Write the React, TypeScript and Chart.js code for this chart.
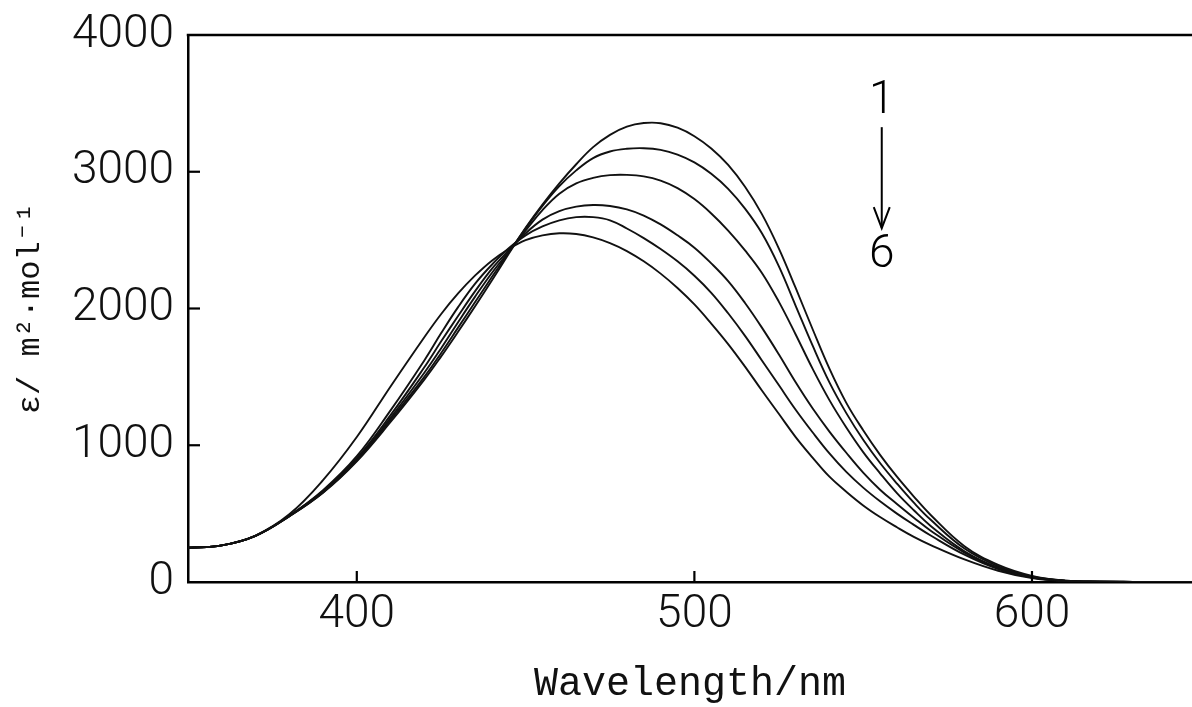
import React, { useEffect, useRef } from "react";
import { Chart, registerables } from "chart.js";

Chart.register(...registerables);

// Wavelength grid (nm)
const wavelengths = [350, 360, 370, 380, 390, 400, 410, 420, 425, 430, 435, 440, 445, 450, 455, 460, 465, 470, 475, 480, 485, 490, 495, 500, 505, 510, 515, 520, 525, 530, 535, 540, 545, 550, 555, 560, 565, 570, 580, 590, 600, 610, 620, 630, 640, 650];

// Molar absorption coefficient for spectra 1..6
const curve1 = [250, 268, 338, 480, 652, 882, 1170, 1480, 1650, 1830, 2015, 2205, 2400, 2590, 2760, 2915, 3055, 3180, 3270, 3330, 3356, 3355, 3322, 3260, 3170, 3050, 2890, 2690, 2440, 2150, 1850, 1560, 1310, 1110, 930, 770, 625, 490, 262, 125, 45, 10, 3, 1, 0, 0];
const curve2 = [250, 268, 338, 481, 655, 888, 1185, 1500, 1675, 1860, 2045, 2230, 2410, 2585, 2750, 2895, 3010, 3100, 3148, 3168, 3172, 3160, 3125, 3068, 2985, 2875, 2730, 2550, 2310, 2020, 1730, 1460, 1235, 1040, 870, 720, 580, 455, 245, 115, 40, 9, 3, 1, 0, 0];
const curve3 = [250, 268, 338, 482, 660, 895, 1200, 1530, 1710, 1900, 2085, 2260, 2415, 2570, 2720, 2840, 2915, 2955, 2975, 2977, 2966, 2935, 2880, 2800, 2695, 2570, 2425, 2260, 2050, 1810, 1560, 1330, 1130, 950, 795, 650, 525, 410, 225, 105, 37, 8, 3, 1, 0, 0];
const curve4 = [250, 268, 338, 483, 665, 905, 1220, 1570, 1760, 1945, 2125, 2290, 2425, 2550, 2650, 2712, 2745, 2757, 2750, 2725, 2680, 2615, 2535, 2445, 2330, 2200, 2040, 1860, 1665, 1460, 1270, 1100, 945, 800, 675, 570, 470, 375, 215, 100, 35, 8, 2, 1, 0, 0];
const curve5 = [250, 268, 338, 485, 672, 920, 1255, 1620, 1820, 2010, 2180, 2320, 2440, 2535, 2600, 2645, 2668, 2668, 2645, 2585, 2515, 2435, 2345, 2240, 2115, 1965, 1800, 1620, 1440, 1260, 1095, 940, 805, 690, 590, 500, 418, 340, 200, 95, 32, 7, 2, 1, 0, 0];
const curve6 = [250, 268, 340, 495, 745, 1060, 1430, 1790, 1960, 2110, 2240, 2350, 2435, 2500, 2535, 2550, 2545, 2520, 2478, 2420, 2345, 2255, 2150, 2030, 1890, 1740, 1575, 1400, 1230, 1060, 910, 770, 660, 560, 475, 400, 330, 270, 165, 82, 28, 6, 2, 1, 0, 0];

const seriesNames = ["1", "2", "3", "4", "5", "6"];
const seriesValues = [curve1, curve2, curve3, curve4, curve5, curve6];

const xTicks = [400, 500, 600];
const yTicks = [0, 1000, 2000, 3000, 4000];
const xMin = 350;
const xMax = 647.4;
const yMin = 0;
const yMax = 4000;

const xTitle = "Wavelength/nm";
const yTitle = "ε/ m²·mol⁻¹";

// "1 -> 6" annotation: wavelength, and levels for label 1, arrow start, arrow end, label 6
const arrowLabels = ["1", "6"];
const arrowWavelength = 555.5;
const arrowLevels = [3512, 3326, 2588, 2390];

const TICK_FONT = { family: "Roboto, 'DejaVu Sans', sans-serif", size: 46, weight: "300" as any, lineHeight: 1.2 };

const framePlugin = {
  id: "frameAndNotes",
  afterDraw(chart: any) {
    const { ctx, chartArea: a, scales } = chart;
    const xs = scales.x;
    const ys = scales.y;
    ctx.save();
    ctx.strokeStyle = "#000";
    ctx.fillStyle = "#000";
    ctx.lineCap = "butt";
    // top frame line
    ctx.lineWidth = 2.5;
    ctx.beginPath();
    ctx.moveTo(a.left - 1.25, a.top);
    ctx.lineTo(a.right, a.top);
    ctx.stroke();
    // inward tick marks
    ctx.lineWidth = 2.2;
    for (const v of yTicks) {
      if (v <= yMin || v >= yMax) continue;
      const y = ys.getPixelForValue(v);
      ctx.beginPath();
      ctx.moveTo(a.left, y);
      ctx.lineTo(a.left + 12, y);
      ctx.stroke();
    }
    for (const v of xTicks) {
      const x = xs.getPixelForValue(v);
      ctx.beginPath();
      ctx.moveTo(x, a.bottom);
      ctx.lineTo(x, a.bottom - 11);
      ctx.stroke();
    }
    // annotation
    const ax = xs.getPixelForValue(arrowWavelength);
    const yl1 = ys.getPixelForValue(arrowLevels[0]);
    const ya = ys.getPixelForValue(arrowLevels[1]);
    const yb = ys.getPixelForValue(arrowLevels[2]);
    const yl6 = ys.getPixelForValue(arrowLevels[3]);
    ctx.font = `300 46px Roboto, 'DejaVu Sans', sans-serif`;
    ctx.textAlign = "center";
    ctx.textBaseline = "middle";
    ctx.fillText(arrowLabels[0], ax, yl1);
    ctx.fillText(arrowLabels[1], ax, yl6);
    ctx.lineWidth = 2;
    ctx.beginPath();
    ctx.moveTo(ax, ya);
    ctx.lineTo(ax, yb);
    ctx.stroke();
    ctx.beginPath();
    ctx.moveTo(ax - 8, yb - 21);
    ctx.lineTo(ax, yb);
    ctx.lineTo(ax + 8, yb - 21);
    ctx.stroke();
    ctx.restore();
  },
};

export default function App() {
  const canvasRef = useRef<HTMLCanvasElement | null>(null);

  useEffect(() => {
    const canvas = canvasRef.current;
    if (!canvas) return;
    const chart = new Chart(canvas, {
      type: "line",
      data: {
        labels: wavelengths,
        datasets: seriesValues.map((vals, i) => ({
          label: seriesNames[i],
          data: vals.map((v, j) => ({ x: wavelengths[j], y: v })),
          borderColor: "#111",
          borderWidth: 1.9,
          pointRadius: 0,
          fill: false,
          tension: 0.4,
        })),
      },
      options: {
        animation: false,
        responsive: true,
        maintainAspectRatio: false,
        layout: { padding: { top: 35, left: 0, right: 0, bottom: 0 } },
        plugins: {
          legend: { display: false },
          tooltip: { enabled: false },
        },
        scales: {
          x: {
            type: "linear",
            min: xMin,
            max: xMax,
            afterBuildTicks: (scale: any) => {
              scale.ticks = xTicks.map((v) => ({ value: v }));
            },
            afterFit: (scale: any) => {
              scale.height = 125;
              scale.paddingLeft = 0;
              scale.paddingRight = 0;
            },
            grid: { display: false, drawTicks: false },
            border: { display: true, color: "#000", width: 2.5 },
            ticks: {
              color: "#111",
              font: TICK_FONT,
              padding: 6,
              maxRotation: 0,
              autoSkip: false,
              callback: (v: any) => String(v),
            },
            title: {
              display: true,
              text: xTitle,
              color: "#111",
              font: { family: "'Liberation Mono', 'DejaVu Sans Mono', monospace", size: 40, lineHeight: 1 },
              padding: { top: 0, bottom: 3 },
            },
          },
          y: {
            type: "linear",
            min: yMin,
            max: yMax,
            afterBuildTicks: (scale: any) => {
              scale.ticks = yTicks.map((v) => ({ value: v }));
            },
            afterFit: (scale: any) => {
              scale.width = 188;
              scale.paddingTop = 0;
              scale.paddingBottom = 0;
            },
            grid: { display: false, drawTicks: false },
            border: { display: true, color: "#000", width: 2.5 },
            ticks: {
              color: "#111",
              font: TICK_FONT,
              padding: 14,
              autoSkip: false,
              callback: (v: any) => String(v),
            },
            title: {
              display: true,
              text: yTitle,
              color: "#111",
              font: { family: "'Liberation Mono', 'DejaVu Sans Mono', monospace", size: 32, lineHeight: 1 },
              padding: { top: 15, bottom: 0 },
            },
          },
        },
      },
      plugins: [framePlugin],
    });
    return () => chart.destroy();
  }, []);

  return (
    <div style={{ position: "fixed", left: 0, top: 0, width: "1192px", height: "707px", background: "#fff" }}>
      <canvas ref={canvasRef} />
    </div>
  );
}
